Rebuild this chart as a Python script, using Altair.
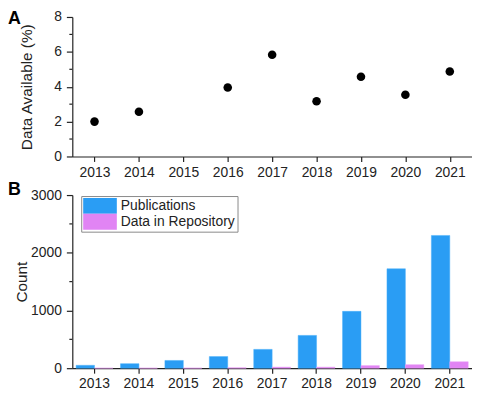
import altair as alt
import pandas as pd

years = ["2013", "2014", "2015", "2016", "2017", "2018", "2019", "2020", "2021"]
pct_available = [2.0, 2.56, None, 3.96, 5.83, 3.17, 4.57, 3.54, 4.87]
publications = [50, 78, 134, 202, 326, 568, 985, 1723, 2300]
repository = [1, 2, 3, 8, 19, 18, 45, 61, 112]
series_names = ["Publications", "Data in Repository"]
series_colors = ["#2a9df4", "#e184f4"]
minor_a = [1, 3, 5, 7]
minor_b = [500, 1500, 2500]

FONT = "Liberation Sans"
INK = "#222222"
W = 404

dfA = pd.DataFrame({"year": years, "pct": pct_available}).dropna()
dfB = pd.concat([
    pd.DataFrame({"year": years, "series": series_names[0], "count": publications}),
    pd.DataFrame({"year": years, "series": series_names[1], "count": repository}),
])

# ---------- Panel A ----------
xA = alt.X("year:O", sort=years,
           scale=alt.Scale(type="point", domain=years, padding=0.5),
           axis=alt.Axis(title=None, labelAngle=0, tickSize=5, labelPadding=4))
yA_scale = alt.Scale(domain=[0, 8], nice=False)
yA_axis = alt.Axis(title="Data Available (%)", values=[0, 2, 4, 6, 8], format="d",
                   labelOverlap=False, tickSize=6, labelPadding=5, titlePadding=19)

pointsA = alt.Chart(dfA).mark_circle(size=75, color="black", opacity=1).encode(
    x=xA,
    y=alt.Y("pct:Q", scale=yA_scale, axis=yA_axis, title="Data Available (%)"),
)
minorA = alt.Chart(pd.DataFrame({"v": minor_a})).mark_rule(color=INK, strokeWidth=1.2).encode(
    y=alt.Y("v:Q", scale=yA_scale, axis=yA_axis, title="Data Available (%)"),
    x=alt.value(-3), x2=alt.value(0)
)
letterA = alt.Chart(pd.DataFrame({"t": ["A"]})).mark_text(
    align="left", baseline="top", fontSize=18, fontWeight="bold", font=FONT, color="black"
).encode(text="t:N", x=alt.value(-65), y=alt.value(-7))

chartA = alt.layer(pointsA, minorA, letterA).properties(width=W, height=141)

# ---------- Panel B ----------
yB_scale = alt.Scale(domain=[0, 3000], nice=False)
yB_axis = alt.Axis(title="Count", values=[0, 1000, 2000, 3000], format="d",
                   labelOverlap=False, tickSize=6, labelPadding=5, titlePadding=1)
barsB = alt.Chart(dfB).mark_bar(strokeWidth=0.8, strokeOpacity=0.6).encode(
    x=alt.X("year:N", sort=years,
            scale=alt.Scale(domain=years, paddingInner=0.17, paddingOuter=0.085),
            axis=alt.Axis(title=None, labelAngle=0, tickSize=5, labelPadding=4)),
    xOffset=alt.XOffset("series:N", sort=series_names,
                        scale=alt.Scale(domain=series_names, paddingInner=0, paddingOuter=0)),
    y=alt.Y("count:Q", scale=yB_scale, axis=yB_axis, title="Count"),
    color=alt.Color("series:N", sort=series_names,
                    scale=alt.Scale(domain=series_names, range=series_colors),
                    legend=alt.Legend(
                        title=None, orient="none", legendX=9, legendY=181,
                        symbolType="M-2.125,-1H2.125V1H-2.125Z", symbolSize=256,
                        symbolOffset=9, symbolStrokeWidth=0, symbolOpacity=1,
                        labelFontSize=14, labelFont=FONT, labelColor=INK,
                        labelOffset=13, rowPadding=0, padding=2,
                        strokeColor="#8a8a8a", fillColor="white")),
    stroke=alt.Stroke("series:N", sort=series_names,
                      scale=alt.Scale(domain=series_names, range=["#49b0fa", "#e9a0f7"]),
                      legend=None),
)
minorB = alt.Chart(pd.DataFrame({"v": minor_b})).mark_rule(color=INK, strokeWidth=1.2).encode(
    y=alt.Y("v:Q", scale=yB_scale, axis=yB_axis, title="Count"),
    x=alt.value(-3), x2=alt.value(0)
)
letterB = alt.Chart(pd.DataFrame({"t": ["B"]})).mark_text(
    align="left", baseline="top", fontSize=18, fontWeight="bold", font=FONT, color="black"
).encode(text="t:N", x=alt.value(-65), y=alt.value(-14))

chartB = alt.layer(barsB, minorB, letterB).properties(width=W, height=175)

chart = alt.vconcat(chartA, chartB, spacing=2).properties(padding=0).configure_view(
    stroke=None
).configure_axis(
    labelFont=FONT, titleFont=FONT, labelFontSize=14, titleFontSize=15.5,
    titleFontWeight="normal", labelColor=INK, titleColor=INK,
    domainColor=INK, tickColor=INK, grid=False, domainWidth=1.2, tickWidth=1.2,
)

chart.save("out.html", embed_options={"renderer": "svg", "actions": False})
